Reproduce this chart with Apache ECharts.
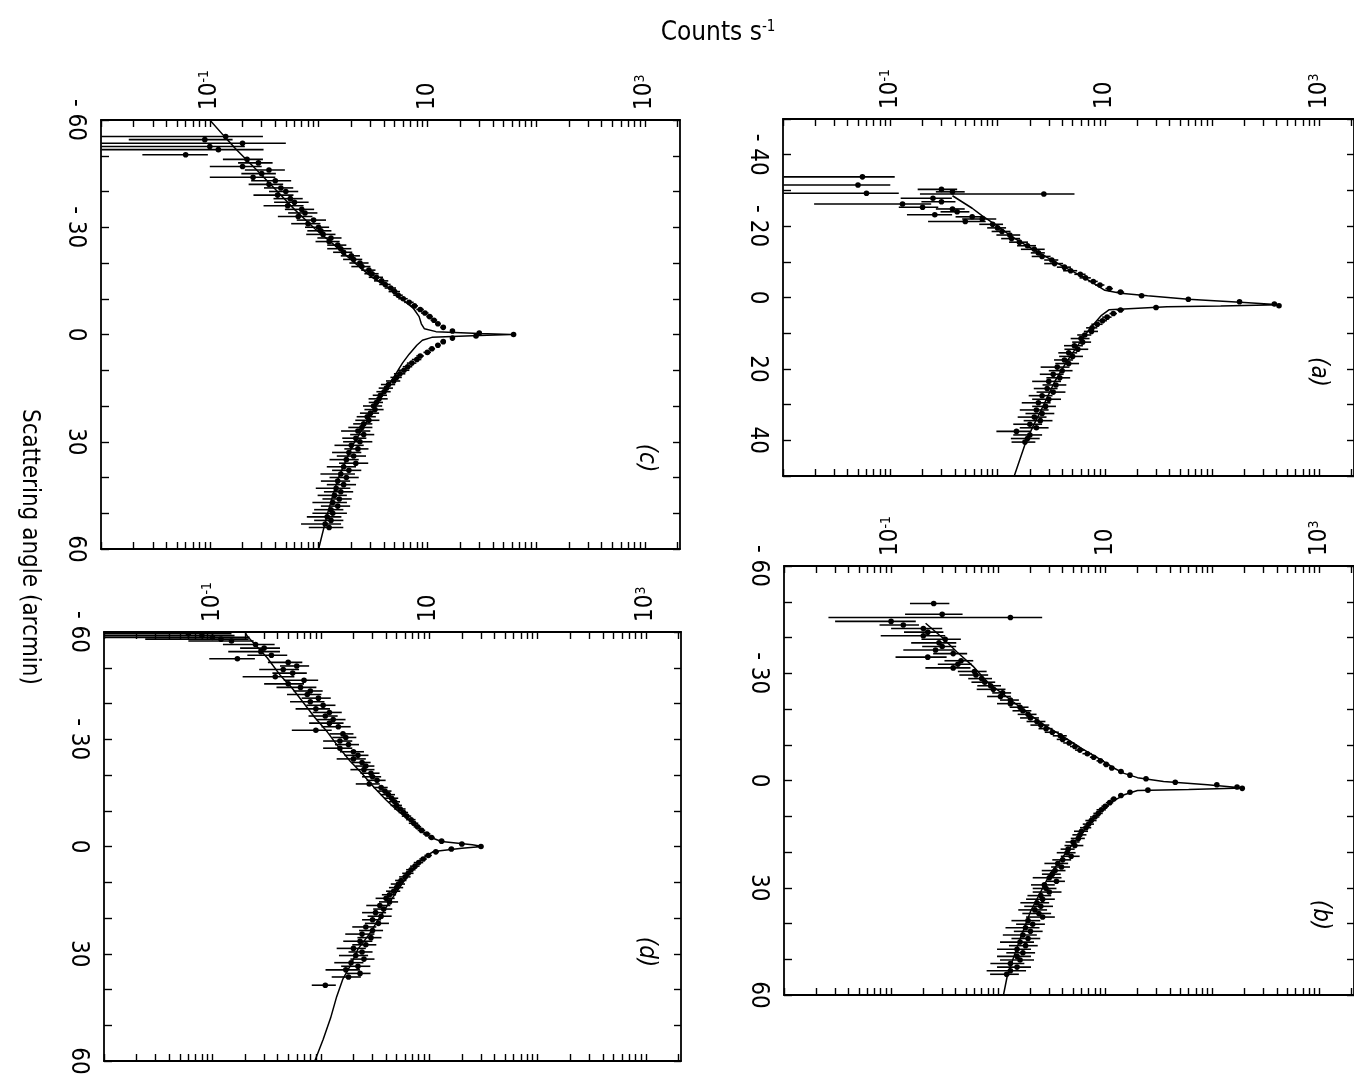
<!DOCTYPE html>
<html>
<head>
<meta charset="utf-8">
<script src="https://cdn.jsdelivr.net/npm/echarts@6/dist/echarts.min.js"></script>
<style>
html, body { margin: 0; padding: 0; background: #fff; }
#chart-one { width: 1354px; height: 1083px; }
</style>
</head>
<body>
<div id="chart-one"></div>
<script>
// count axis (log) and its labels
var countMin = 0.01, countMax = 2100;
var countLabels = [0.1, 10, 1000];
var countLabelText = ['10{sup|-1}', '10', '10{sup|3}'];

// scattering angle tick labels per panel
var aAngleLabels = [-40, -20, 0, 20, 40];
var bAngleLabels = [-60, -30, 0, 30, 60];
var cAngleLabels = [-60, -30, 0, 30, 60];
var dAngleLabels = [-60, -30, 0, 30, 60];

// model curves: [angle (arcmin), counts/s]
var aModel = [[-28.5,0.38],[-25,0.58],[-23,0.71],[-20,1.0],[-17,1.37],[-14,2.0],[-10.6,3.15],[-8,4.5],[-6,6.1],[-4,7.8],[-2,10],[-1.2,14],[-0.5,25],[0.5,60],[1.4,200],[2,425],[2.4,120],[2.6,38],[3.4,11],[5,9.3],[8.8,7.2],[13.4,5.6],[18,4.4],[23.6,3.4],[30,2.7],[36.6,2.1],[41.2,1.8],[50,1.43]];
var bModel = [[-44,0.21],[-40,0.3],[-36,0.41],[-32,0.58],[-27.4,0.8],[-23,1.25],[-19,1.86],[-15.5,2.7],[-12.6,3.9],[-9,6],[-6,8.9],[-3.5,12],[-2,15],[-0.8,20],[0.3,35],[1.2,90],[2.1,195],[2.5,60],[2.8,20],[4,15],[6,11.5],[9,8.8],[12.6,6.9],[19,4.6],[26.5,3.0],[36.7,2.0],[45,1.57],[54.4,1.22],[60,1.12]];
var cModel = [[-60,0.1],[-55,0.14],[-51.7,0.176],[-46,0.27],[-40.6,0.4],[-35,0.6],[-29.5,0.93],[-25,1.4],[-20.3,2.1],[-16,3.1],[-12.9,4.5],[-10,5.8],[-7.4,7.4],[-5,8.4],[-3,8.8],[-1.6,9.4],[-0.8,12],[-0.3,30],[0,59],[0.3,30],[0.8,11],[1.6,9.0],[3,8.0],[5.5,6.8],[8,5.9],[12,4.9],[16,4.0],[21.2,3.2],[25,2.7],[30.5,2.1],[35,1.8],[40.6,1.5],[45,1.35],[50.8,1.19],[60,1.0]];
var dModel = [[-60,0.2],[-58.8,0.21],[-52.8,0.32],[-48,0.42],[-44.4,0.54],[-40,0.7],[-36.1,0.88],[-32,1.15],[-27.8,1.46],[-24,1.85],[-20.4,2.4],[-16.5,3.1],[-13,4.0],[-10,5.1],[-7.4,6.6],[-5.5,7.8],[-3.7,9.2],[-2.3,10.8],[-1.4,13],[-0.5,25],[0,31],[0.5,20],[1.4,11],[2.5,9.5],[3.7,8.5],[5.5,7.4],[7.4,6.6],[10.5,5.6],[13.9,4.7],[17,4.0],[20.4,3.4],[24.5,2.8],[28.7,2.2],[33,1.9],[37,1.6],[42,1.4],[48,1.23],[54,1.05],[60,0.88]];

// measured points: [angle, counts/s, relative error]
var aPoints = [[-33.8,0.055,1.0],[-31.5,0.05,1.0],[-29.2,0.06,1.0],[-30.3,0.3,0.4],[-29.6,0.38,0.3],[-29.0,2.7,0.93],
[-27.8,0.25,0.5],[-26.8,0.3,0.35],[-26.2,0.13,0.85],[-25.3,0.2,0.4],[-24.8,0.38,0.3],[-24.0,0.42,0.3],[-23.2,0.26,0.45],[-22.6,0.58,0.3],[-22.0,0.72,0.35],[-21.3,0.5,0.55],
[-20.5,0.9,0.25],[-19.5,1.0,0.2],[-18.5,1.1,0.2],[-17.5,1.3,0.25],[-16.5,1.35,0.2],[-15.5,1.6,0.2],[-14.5,1.9,0.2],[-13.5,2.2,0.25],[-12.5,2.4,0.15],[-11.5,2.6,0.2],[-10.5,3.2,0.15],[-9.5,3.4,0.2],[-8.5,4.2,0.15],[-7.5,4.8,0.15],[-6.5,5.9,0.12],[-5.5,6.6,0.12],[-4.5,7.8,0.1],[-3.5,9,0.1],[-2.5,11,0.08],[-1.5,14,0.08],[-0.5,22,0.06],[0.5,60,0.05],[1.2,180,0.04],[1.8,380,0.03],[2.3,420,0.03],[2.8,30,0.06],
[3.5,14,0.08],[4.5,12,0.08],[5.5,10.5,0.1],[6.5,9.5,0.1],[7.5,8.5,0.12],[8.5,7.6,0.12],[9.5,7.5,0.15],[10.5,6.5,0.15],[11.5,6.0,0.2],[12.5,6.2,0.2],[13.5,5.2,0.2],[14.5,5.6,0.25],[15.5,4.6,0.2],[16.5,5.0,0.25],[17.5,4.2,0.2],[18.5,4.6,0.25],[19.5,3.6,0.3],[20.5,4.0,0.25],[21.5,3.3,0.25],[22.5,3.8,0.25],[23.5,3.0,0.3],[24.5,3.5,0.25],[25.5,2.9,0.25],[26.5,3.3,0.3],[27.5,2.6,0.25],[28.5,3.0,0.3],[29.5,2.4,0.3],[30.5,2.8,0.25],[31.5,2.3,0.3],[32.5,2.6,0.3],[33.5,2.2,0.3],[34.5,2.5,0.3],[35.5,2.0,0.3],[36.5,2.3,0.3],[37.5,1.5,0.35],[38.5,2.0,0.3],[39.5,1.9,0.3],[40.5,1.8,0.25]];

var bPoints = [[-49.5,0.25,0.4],[-46.5,0.3,0.55],[-45.6,1.3,0.98],[-44.5,0.1,0.7],[-43.5,0.13,0.4],[-42.5,0.2,0.5],[-41.5,0.22,0.4],[-40.5,0.2,0.6],[-39.5,0.32,0.4],[-38.5,0.28,0.45],[-37.5,0.3,0.35],[-36.5,0.26,0.5],[-35.5,0.38,0.35],[-34.5,0.22,0.5],[-33.5,0.45,0.3],[-32.5,0.42,0.35],[-31.5,0.38,0.45],[-30.5,0.6,0.3],[-29.5,0.62,0.3],[-28.5,0.7,0.25],[-27.5,0.75,0.25],[-26.5,0.85,0.25],[-25.5,0.9,0.3],[-24.5,1.1,0.2],[-23.5,1.05,0.25],[-22.5,1.3,0.2],[-21.5,1.3,0.25],[-20.5,1.6,0.2],[-19.5,1.7,0.2],[-18.5,1.9,0.2],[-17.5,2.0,0.2],[-16.5,2.3,0.2],[-15.5,2.5,0.2],[-14.5,2.8,0.15],[-13.5,3.2,0.15],[-12.5,3.8,0.15],[-11.5,4.0,0.12],[-10.5,4.6,0.12],[-9.5,5.2,0.1],[-8.5,5.8,0.1],[-7.5,6.8,0.1],[-6.5,7.8,0.08],[-5.5,9,0.08],[-4.5,10.2,0.07],[-3.5,11.5,0.06],[-2.5,14,0.06],[-1.5,17,0.05],[-0.5,24,0.05],[0.5,45,0.04],[1.2,110,0.03],[1.8,170,0.03],[2.2,190,0.03],[2.7,25,0.05],
[3.3,17,0.05],[4.2,14,0.06],[5.2,12,0.07],[6.2,11,0.08],[7.2,10,0.08],[8.2,9.2,0.1],[9.2,8.6,0.1],[10.2,8.0,0.1],[11.2,7.4,0.12],[12.2,7.0,0.12],[13.2,6.6,0.12],[14.2,6.0,0.15],[15.2,5.8,0.15],[16.2,5.6,0.15],[17.2,5.0,0.15],[18.2,5.2,0.2],[19.2,4.5,0.15],[20.2,4.4,0.2],[21.2,4.8,0.2],[22.2,4.0,0.2],[23.2,3.6,0.25],[24.2,3.9,0.2],[25.2,3.4,0.25],[26.2,3.2,0.2],[27.2,3.0,0.3],[28.2,3.5,0.2],[29.2,2.7,0.25],[30.2,2.8,0.25],[31.2,3.0,0.3],[32.2,2.5,0.25],[33.2,2.6,0.3],[34.2,2.3,0.3],[35.2,2.5,0.3],[36.2,2.2,0.3],[37.2,2.4,0.3],[38.2,2.6,0.3],[39.2,1.9,0.3],[40.2,2.1,0.3],[41.2,1.8,0.35],[42.2,2.0,0.3],[43.2,1.7,0.35],[44.2,1.9,0.3],[45.2,1.6,0.35],[46.2,1.8,0.3],[47.2,1.5,0.35],[48.2,1.7,0.3],[49.2,1.5,0.35],[50.2,1.6,0.35],[51.2,1.3,0.35],[52.2,1.5,0.35],[53.2,1.3,0.4],[54.2,1.2,0.3]];

var cPoints = [[-55.4,0.14,1.2],[-54.5,0.09,0.8],[-53.5,0.2,1.5],[-52.6,0.1,1.1],[-51.7,0.12,1.6],[-50.3,0.06,0.6],
[-49,0.22,0.4],[-48,0.28,0.35],[-47,0.2,0.5],[-46,0.35,0.4],[-45,0.3,0.35],[-44,0.25,0.6],[-43,0.4,0.4],[-42,0.35,0.35],[-41,0.45,0.3],[-40,0.5,0.3],[-39,0.42,0.4],[-38,0.55,0.3],[-37,0.6,0.35],[-36,0.52,0.4],[-35,0.7,0.3],[-34,0.75,0.3],[-33,0.65,0.35],[-32,0.9,0.3],[-31,0.8,0.3],[-30,1.0,0.25],[-29,1.05,0.25],[-28,1.1,0.3],[-27,1.3,0.25],[-26,1.25,0.25],[-25,1.5,0.2],[-24,1.6,0.25],[-23,1.7,0.2],[-22,2.0,0.2],[-21,2.1,0.2],[-20,2.4,0.2],[-19,2.5,0.2],[-18,2.9,0.15],[-17,3.1,0.15],[-16,3.4,0.15],[-15,3.8,0.15],[-14,4.1,0.12],[-13,4.6,0.12],[-12,5.0,0.12],[-11,5.4,0.1],[-10,6.0,0.1],[-9,6.8,0.1],[-8,7.6,0.08],[-7,8.6,0.08],[-6,9.5,0.08],[-5,10.5,0.07],[-4,11.5,0.07],[-3,12.5,0.06],[-2,14,0.06],[-1,17,0.05],[-0.4,30,0.05],[0,62,0.04],[0.4,28,0.05],
[1,17,0.05],[2,14,0.06],[3,12.5,0.06],[4,11,0.07],[5,10,0.08],[6,8.6,0.08],[7,8.0,0.1],[8,7.2,0.1],[9,6.6,0.1],[10,6.1,0.12],[11,5.6,0.12],[12,5.2,0.12],[13,4.9,0.15],[14,4.4,0.15],[15,4.2,0.15],[16,4.0,0.15],[17,3.7,0.15],[18,3.6,0.2],[19,3.4,0.15],[20,3.2,0.2],[21,3.3,0.2],[22,3.0,0.2],[23,2.8,0.2],[24,2.9,0.25],[25,2.6,0.2],[26,2.5,0.25],[27,2.3,0.3],[28,2.6,0.25],[29,2.2,0.25],[30,2.4,0.3],[31,2.0,0.3],[32,2.3,0.25],[33,1.9,0.3],[34,2.1,0.3],[35,1.8,0.3],[36,2.2,0.3],[37,1.7,0.3],[38,1.9,0.3],[39,1.6,0.35],[40,1.8,0.3],[41,1.5,0.3],[42,1.7,0.3],[43,1.45,0.35],[44,1.6,0.3],[45,1.4,0.3],[46,1.55,0.3],[47,1.35,0.35],[48,1.5,0.3],[49,1.3,0.3],[50,1.35,0.35],[51,1.2,0.35],[52,1.3,0.3],[53,1.15,0.4],[54,1.25,0.35]];

var dPoints = [[-59.5,0.06,1.5],[-59,0.08,1.0],[-58.5,0.1,1.2],[-58,0.12,0.8],[-57.5,0.15,0.6],[-56.5,0.25,0.5],[-55.5,0.3,0.4],[-54.5,0.28,0.5],[-53.5,0.35,0.4],[-52.5,0.17,0.45],
[-51.5,0.5,0.35],[-50.5,0.6,0.3],[-49.5,0.45,0.4],[-48.5,0.55,0.35],[-47.5,0.38,0.5],[-46.5,0.7,0.35],[-45.5,0.5,0.4],[-44.5,0.65,0.4],[-43.5,0.8,0.3],[-42.5,0.75,0.35],[-41.5,0.95,0.3],[-40.5,0.8,0.35],[-39.5,1.05,0.3],[-38.5,0.9,0.35],[-37.5,1.2,0.3],[-36.5,1.1,0.3],[-35.5,1.3,0.3],[-34.5,1.2,0.35],[-33.5,1.45,0.3],[-32.5,0.9,0.4],[-31.5,1.6,0.25],[-30.5,1.7,0.25],[-29.5,1.5,0.3],[-28.5,1.8,0.25],[-27.5,1.5,0.3],[-26.5,2.0,0.25],[-25.5,2.2,0.25],[-24.5,2.0,0.3],[-23.5,2.4,0.2],[-22.5,2.6,0.2],[-21.5,2.5,0.25],[-20.5,2.9,0.2],[-19.5,3.0,0.2],[-18.5,3.3,0.2],[-17.5,2.8,0.25],[-16.5,3.6,0.15],[-15.5,3.9,0.15],[-14.5,4.2,0.15],[-13.5,4.5,0.15],[-12.5,4.8,0.12],[-11.5,5.0,0.12],[-10.5,5.4,0.12],[-9.5,5.8,0.1],[-8.5,6.2,0.1],[-7.5,6.8,0.1],[-6.5,7.2,0.1],[-5.5,7.8,0.08],[-4.5,8.5,0.08],[-3.5,9.5,0.08],[-2.5,10.5,0.07],[-1.5,13,0.06],[-0.7,20,0.06],[0,30,0.05],[0.7,16,0.06],
[1.5,11.5,0.07],[2.5,9.8,0.08],[3.5,8.8,0.08],[4.5,8.0,0.1],[5.5,7.4,0.1],[6.5,6.8,0.1],[7.5,6.4,0.12],[8.5,6.0,0.12],[9.5,5.5,0.12],[10.5,5.2,0.15],[11.5,5.0,0.15],[12.5,4.7,0.15],[13.5,4.3,0.15],[14.5,4.0,0.2],[15.5,4.3,0.2],[16.5,3.5,0.25],[17.5,3.8,0.2],[18.5,3.2,0.25],[19.5,3.6,0.25],[20.5,3.0,0.2],[21.5,3.4,0.25],[22.5,2.6,0.25],[23.5,3.0,0.25],[24.5,2.4,0.3],[25.5,2.9,0.25],[26.5,2.3,0.3],[27.5,2.6,0.25],[28.5,2.0,0.3],[29.5,2.4,0.25],[30.5,2.1,0.3],[31.5,2.5,0.25],[32.5,1.9,0.3],[33.5,2.2,0.3],[34.5,1.7,0.35],[35.5,2.3,0.25],[36.5,1.8,0.3],[38.8,1.1,0.25]];

var labelFont = "'DejaVu Sans Condensed', 'DejaVu Sans', sans-serif";

var ScatterPanels = function(){
	this.mychart = echarts.init(document.getElementById('chart-one'));

	this.panels = [
		{tag: '(a)', tagPos: [1318, 372], grid: {left: 783, top: 119, width: 578, height: 357}, range: [-50, 50], labels: aAngleLabels, model: aModel, points: aPoints},
		{tag: '(b)', tagPos: [1320, 915], grid: {left: 784, top: 566, width: 578, height: 429}, range: [-60, 60], labels: bAngleLabels, model: bModel, points: bPoints},
		{tag: '(c)', tagPos: [646, 458], grid: {left: 101, top: 120, width: 579, height: 429}, range: [-60, 60], labels: cAngleLabels, model: cModel, points: cPoints},
		{tag: '(d)', tagPos: [646, 952], grid: {left: 104, top: 632, width: 577, height: 429}, range: [-60, 60], labels: dAngleLabels, model: dModel, points: dPoints}
	];

	// 1..9 x 10^n tick marks on the log axis
	this.logTicks = function(){
		var ticks = [];
		for (var d = -2; d <= 3; d++) {
			for (var m = 1; m <= 9; m++) {
				var t = +(m * Math.pow(10, d)).toPrecision(2);
				if (t <= countMax) ticks.push(t);
			}
		}
		return ticks;
	};

	this.errItem = function(params, api){
		var y = api.value(0), v = api.value(1), lo = api.value(2), hi = api.value(3);
		var p = api.coord([v, y]);
		var pl = api.coord([lo, y]);
		var ph = api.coord([hi, y]);
		return {
			type: 'group',
			children: [
				{type: 'line', shape: {x1: pl[0], y1: p[1], x2: ph[0], y2: p[1]}, style: {stroke: '#000', lineWidth: 1.6}},
				{type: 'circle', shape: {cx: p[0], cy: p[1], r: 2.8}, style: {fill: '#000'}}
			]
		};
	};

	this.initChart = function(){
		var self = this;
		var ticks = this.logTicks();
		var grids = [], xAxes = [], yAxes = [], series = [], graphics = [];

		var countFmt = function(v){
			for (var i = 0; i < countLabels.length; i++) {
				if (Math.abs(v - countLabels[i]) < countLabels[i] * 1e-6) return countLabelText[i];
			}
			return '';
		};
		var axisLine = {show: true, onZero: false, lineStyle: {color: '#000', width: 1.8}};

		this.panels.forEach(function(p, i){
			grids.push(p.grid);
			var angleFmt = function(v){
				if (p.labels.indexOf(v) < 0) return '';
				return v < 0 ? '- ' + Math.abs(v) : String(v);
			};
			xAxes.push({
				type: 'log', logBase: 10, gridIndex: i, position: 'top', min: countMin, max: countMax,
				axisLine: axisLine,
				axisTick: {show: true, inside: true, length: 7, customValues: ticks, lineStyle: {color: '#000', width: 1.4}},
				axisLabel: {
					show: true, customValues: countLabels, rotate: -90, margin: 10,
					color: '#000', fontFamily: labelFont, fontSize: 24, formatter: countFmt,
					rich: {sup: {fontSize: 14, fontFamily: labelFont, color: '#000', verticalAlign: 'top'}}
				},
				splitLine: {show: false}
			});
			xAxes.push({
				type: 'log', logBase: 10, gridIndex: i, position: 'bottom', min: countMin, max: countMax,
				axisLine: axisLine,
				axisTick: {show: true, inside: true, length: 7, customValues: ticks, lineStyle: {color: '#000', width: 1.4}},
				axisLabel: {show: false},
				splitLine: {show: false}
			});
			yAxes.push({
				type: 'value', gridIndex: i, position: 'left', inverse: true,
				min: p.range[0], max: p.range[1], interval: 10,
				axisLine: axisLine,
				axisTick: {show: true, inside: true, length: 8, lineStyle: {color: '#000', width: 1.4}},
				axisLabel: {show: true, customValues: p.labels, rotate: -90, margin: 14, color: '#000', fontFamily: labelFont, fontSize: 24, formatter: angleFmt},
				splitLine: {show: false}
			});
			yAxes.push({
				type: 'value', gridIndex: i, position: 'right', inverse: true,
				min: p.range[0], max: p.range[1], interval: 10,
				axisLine: axisLine,
				axisTick: {show: true, inside: true, length: 7, lineStyle: {color: '#000', width: 1.4}},
				axisLabel: {show: false},
				splitLine: {show: false}
			});

			series.push({
				type: 'line',
				xAxisIndex: 2 * i, yAxisIndex: 2 * i,
				data: p.model.map(function(r){ return [r[1], r[0]]; }),
				showSymbol: false, symbol: 'none',
				lineStyle: {color: '#000', width: 1.5},
				clip: true, z: 3
			});
			series.push({
				type: 'custom',
				xAxisIndex: 2 * i, yAxisIndex: 2 * i,
				data: p.points.map(function(r){
					return [r[0], r[1], Math.max(r[1] * (1 - r[2]), countMin * 1.01), r[1] * (1 + r[2])];
				}),
				encode: {x: 1, y: 0},
				renderItem: self.errItem,
				clip: true, z: 4
			});

			graphics.push({
				type: 'text', x: p.tagPos[0], y: p.tagPos[1], rotation: -Math.PI / 2,
				style: {text: p.tag, fontFamily: labelFont, fontSize: 24, fontStyle: 'italic', fill: '#000', align: 'center', verticalAlign: 'middle'}
			});
		});

		graphics.push({
			type: 'text', x: 718, y: 33,
			style: {
				text: 'Counts s{sup|-1}', fontFamily: labelFont, fontSize: 26, fill: '#000', align: 'center', verticalAlign: 'middle',
				rich: {sup: {fontSize: 15, fontFamily: labelFont, fill: '#000', verticalAlign: 'top'}}
			}
		});
		graphics.push({
			type: 'text', x: 29, y: 547, rotation: -Math.PI / 2,
			style: {text: 'Scattering angle (arcmin)', fontFamily: labelFont, fontSize: 24, fill: '#000', align: 'center', verticalAlign: 'middle'}
		});

		var option = {
			backgroundColor: '#fff',
			animation: false,
			grid: grids,
			xAxis: xAxes,
			yAxis: yAxes,
			series: series,
			graphic: graphics
		};

		this.mychart.setOption(option);
	};
};

var chart = new ScatterPanels();
chart.initChart();
</script>
</body>
</html>
